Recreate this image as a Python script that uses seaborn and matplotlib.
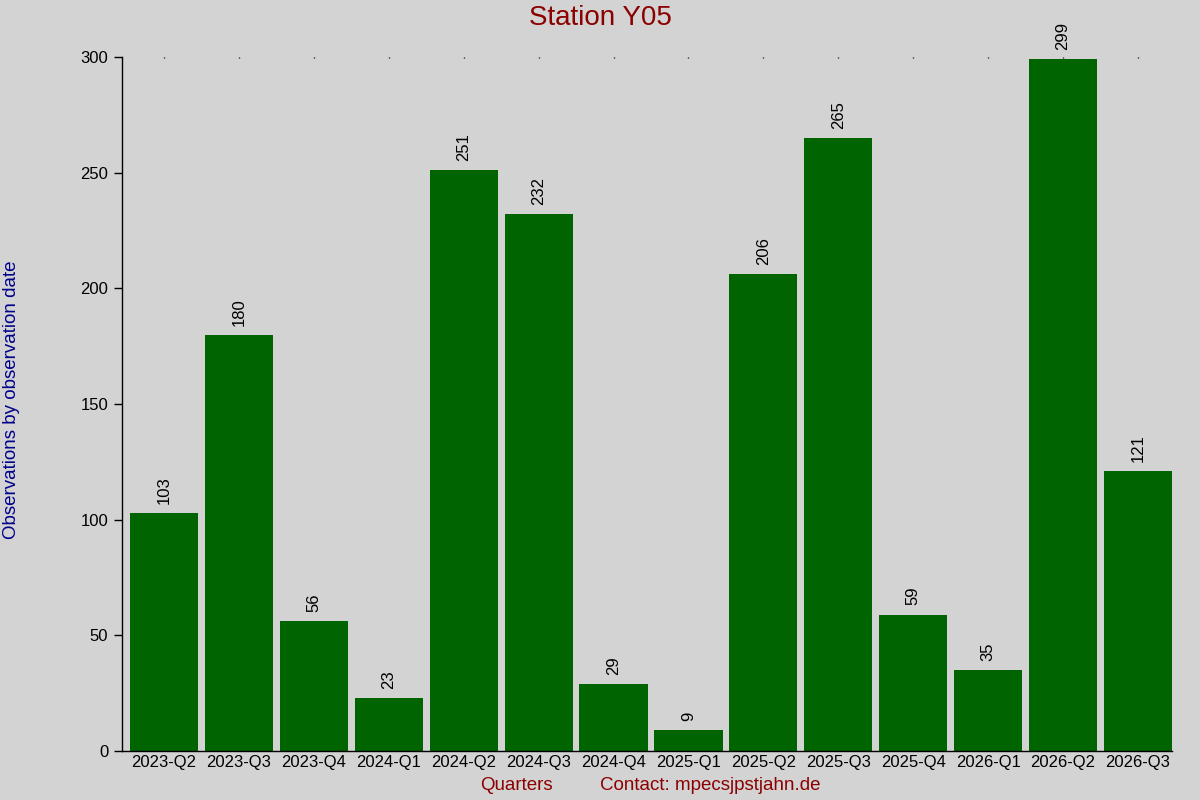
import matplotlib
matplotlib.use("Agg")
import matplotlib.pyplot as plt
import seaborn as sns
import pandas as pd

# Daten
quarters = ["2023-Q2", "2023-Q3", "2023-Q4", "2024-Q1", "2024-Q2", "2024-Q3", "2024-Q4",
            "2025-Q1", "2025-Q2", "2025-Q3", "2025-Q4", "2026-Q1", "2026-Q2", "2026-Q3"]
counts = [103, 180, 56, 23, 251, 232, 29, 9, 206, 265, 59, 35, 299, 121]
y_ticks = [0, 50, 100, 150, 200, 250, 300]

sns.set_style("ticks")
plt.rcParams["font.family"] = ["Liberation Sans", "DejaVu Sans"]

bg = "#d3d3d3"
df = pd.DataFrame({"quarter": quarters, "count": counts})

fig = plt.figure(figsize=(12, 8), dpi=100, facecolor=bg)
ax = fig.add_axes([0.1017, 0.06125, 0.875, 0.8675])
ax.set_facecolor(bg)

sns.barplot(data=df, x="quarter", y="count", color="#006400", saturation=1,
            width=0.91, linewidth=0, ax=ax)

# Werte über den Balken
for i, v in enumerate(counts):
    ax.annotate(str(v), (i, v), xytext=(0, 6.5), textcoords="offset points",
                rotation=90, ha="center", va="bottom", fontsize=12, color="black")

ax.set_xlim(-0.56, len(quarters) - 1 + 0.455)
ax.set_ylim(0, 300)
ax.set_yticks(y_ticks)
ax.tick_params(axis="y", direction="out", length=6, width=1, labelsize=12, pad=4,
               colors="black")
ax.tick_params(axis="x", bottom=False, top=True, direction="in", length=1, width=1,
               labelsize=12, pad=3, colors="black")

for s in ["top", "right"]:
    ax.spines[s].set_visible(False)
for s in ["left", "bottom"]:
    ax.spines[s].set_color("black")
    ax.spines[s].set_linewidth(1)

ax.set_xlabel("")
ax.set_ylabel("")
fig.text(0.5, 0.977, "Station Y05", ha="center", va="center", fontsize=20, color="#8b0000")
fig.text(0.0095, 0.5, "Observations by observation date", rotation=90, ha="center",
         va="center", fontsize=13.5, color="#00008b")
fig.text(0.43, 0.018, "Quarters", ha="center", va="center", fontsize=13.5, color="#8b0000")
fig.text(0.592, 0.018, "Contact: mpecsjpstjahn.de", ha="center", va="center",
         fontsize=13.5, color="#8b0000")

fig.savefig("out.png", dpi=100, facecolor=bg)
